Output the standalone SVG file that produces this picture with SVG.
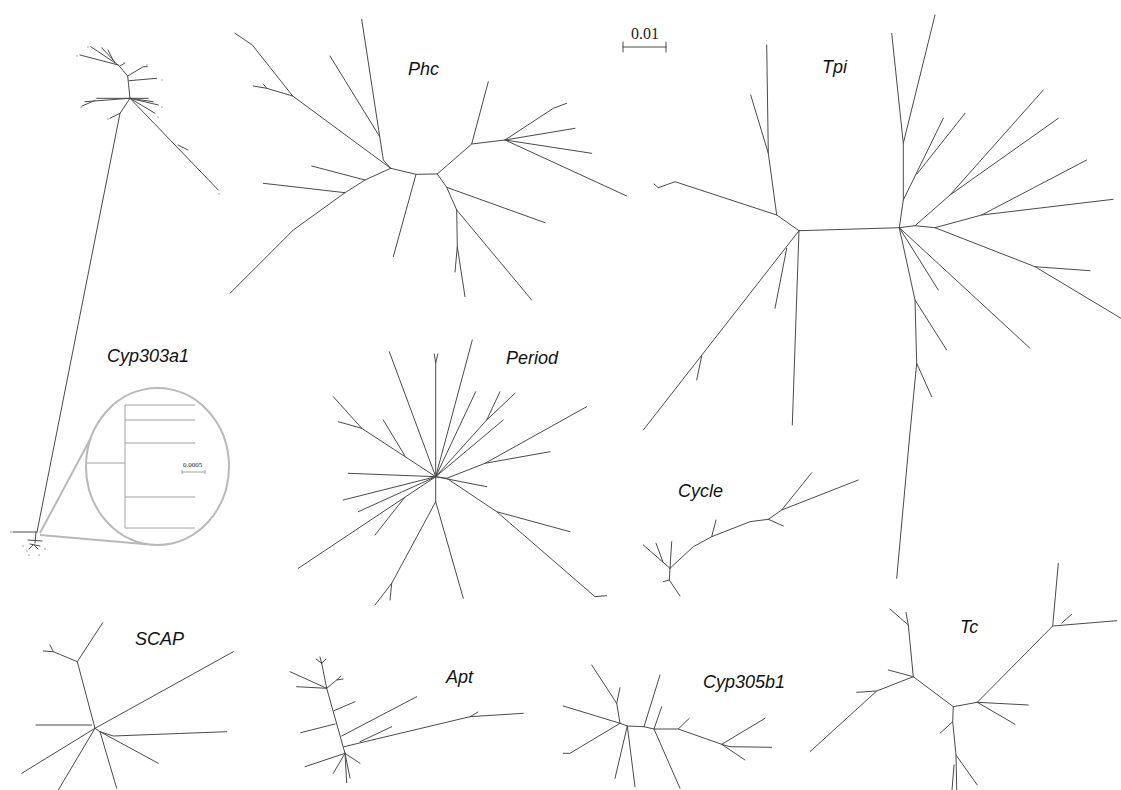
<svg xmlns="http://www.w3.org/2000/svg" width="1121" height="790" viewBox="0 0 1121 790">
<style>
.t{fill:none;stroke:#4a4a4a;stroke-width:1;stroke-linecap:round;stroke-linejoin:round}
.lbl{font-family:"Liberation Sans",Arial,sans-serif;font-style:italic;font-size:18px;fill:#111}
.ins{fill:none;stroke:#b9b9b9;stroke-width:2}
.inst{fill:none;stroke:#a0a0a0;stroke-width:1}
.sc{font-family:"Liberation Serif","Times New Roman",serif;fill:#222}
.dot{fill:#999}
</style>
<rect width="1121" height="790" fill="#fff"/>

<g id="scalebar">
<path class="t" d="M623,47 L666,47 M623,42 L623,52 M666,42 L666,52"/>
<text class="sc" x="645" y="39" font-size="16" text-anchor="middle">0.01</text>
</g>

<g id="cyp303a1">
<path class="t" d="M130,98.3 L127.7,76 L118.3,65 L90.7,46.7 M118.3,65 L80,55 M115,62 L102,48 M113,60 L108,50 M120,66 L125,63 M127.7,76 L143.3,66.7 L147.3,66.7 M129.3,80.7 L156.7,78.3 M130,98.3 L85,101.7 M95,100.5 L82,106 M130,98.3 L96.7,98.3 M130,98.3 L148.3,98.3 M130,98.3 L153.3,101.7 M130,98.3 L158.3,105 M130,98.3 L155,113.3 M130,98.3 L218.3,190 M178,145 L188,150 M130,98.3 L120,113.3 L37,532 M120,113.3 L110,118.3 M37,532 L13,532 M36,532 L35,543 M28,540 L42,541 M30,544 L40,546 M33,545 L29,549 M34,545 L38,549"/>
<g class="dot">
<circle cx="88" cy="47" r="0.8"/><circle cx="77" cy="56" r="0.8"/><circle cx="102" cy="48" r="0.8"/><circle cx="124" cy="63" r="0.8"/><circle cx="147" cy="65" r="0.8"/><circle cx="162" cy="80" r="0.8"/><circle cx="81" cy="107" r="0.8"/><circle cx="162" cy="107" r="0.8"/><circle cx="158" cy="117" r="0.8"/><circle cx="108" cy="119" r="0.8"/><circle cx="219" cy="194" r="0.8"/><circle cx="23" cy="546" r="0.8"/><circle cx="27" cy="551" r="0.8"/><circle cx="29" cy="555" r="0.8"/><circle cx="39" cy="555" r="0.8"/><circle cx="45" cy="549" r="0.8"/><circle cx="11" cy="532" r="0.8"/>
</g>
<text class="lbl" x="107" y="362">Cyp303a1</text>
<path class="ins" d="M40,533 L90.7,438.3 M40,535 L146.7,544.3"/>
<ellipse class="ins" cx="157.5" cy="466.5" rx="71.5" ry="78.5"/>
<path class="inst" d="M125,405 L125,528 M125,405 L195,405 M125,420 L195,420 M125,443 L195,443 M125,497 L195,497 M125,528 L195,528 M87,463 L125,463 M182,472 L205,472 M182,470 L182,474 M205,470 L205,474"/>
<text class="sc" x="183" y="467" font-size="7">0.0005</text>
</g>

<g id="phc">
<path class="t" d="M390.7,168.3 L416,174.3 L437.3,174 M390.7,168.3 L383.3,160 L361.7,19.3 M379.7,136.7 L330,56 M390.7,168.3 L292.7,96 L252.3,45 L235,33.3 M292.7,96 L266.7,88.3 L253.3,86 M266.7,88.3 L263.3,84 M390.7,168.3 L365,180 L345,192.7 L293.3,230 L230,293.3 M365,180 L311.7,166 M345,192.7 L263.3,183.3 M416,174.3 L393.3,256.7 M437.3,174 L471.7,144 L488.3,81.7 M471.7,144 L505,140 L553.3,108.3 L566.7,103.3 M505,140 L575,128.3 M505,140 L591.7,153.3 M505,140 L626.7,196 M437.3,174 L446.7,187.3 L545,222.7 M446.7,187.3 L456.7,210 L531.7,300 M456.7,210 L457.3,246.7 L465,296.7 M457.3,246.7 L455,272"/>
<text class="lbl" x="408" y="75">Phc</text>
</g>

<g id="tpi">
<path class="t" d="M799,230.7 L899.3,227.7 M799,230.7 L776.7,215 L675,181.7 L658.3,187.7 M658.3,187.7 L654,184 M776.7,215 L768.3,153.3 L766.7,45 M768.3,153.3 L750.7,95 M799,230.7 L643.3,430 M786.7,248.3 L775,308.3 M701.7,356 L696.7,380 M799,230.7 L792.3,425 M899.3,227.7 L903.3,200 L903.3,143.3 L891.7,33.3 M903.3,143.3 L935,15 M903.3,200 L943.3,118.3 M917,174 L965,113.3 M899.3,227.7 L915,225.7 L935,227.7 L981.7,215 L1113.3,199.3 M981.7,215 L1086.7,160 M915,225.7 L950,195 L1043.3,90 M950,195 L1058.3,118.3 M935,227.7 L1035,266.7 L1121,318.3 M1035,266.7 L1090,270.7 M899.3,227.7 L1030,348.3 M899.3,227.7 L938.3,290 M899.3,227.7 L915,300 L916.7,363.3 L909.3,440 L896.7,578.3 M915,300 L946.7,350 M916.7,363.3 L931.7,396.7"/>
<text class="lbl" x="822" y="73">Tpi</text>
</g>

<g id="period">
<path class="t" d="M435.7,476.7 L435.7,363.3 L434.3,354 M435.7,363.3 L437.7,354 M435.7,476.7 L389.3,351.7 M435.7,476.7 L472.3,340 M435.7,476.7 L475.7,391.7 M435.7,476.7 L486.7,420 L500,391.7 M486.7,420 L515,393.3 M435.7,476.7 L503.3,420 M435.7,476.7 L446.7,478.3 L485,463.3 L586.7,406.7 M485,463.3 L550,451.7 M435.7,476.7 L486.7,486.7 M446.7,478.3 L496.7,511.7 L595,596.7 L606.7,595.7 M496.7,511.7 L570,531.7 M435.7,476.7 L348.3,473.3 M435.7,476.7 L343.3,500 M435.7,476.7 L358.3,511.7 M435.7,476.7 L298.3,568.3 M405,497 L375,535 M435.7,476.7 L361.7,428.3 L333.3,396.7 M361.7,428.3 L338.3,421.7 M405,456 L383.3,420 M435.7,476.7 L435.7,501.7 L391.7,583.3 L375,605 M391.7,583.3 L390,600 M435.7,501.7 L463.3,598.3"/>
<text class="lbl" x="506" y="364">Period</text>
</g>

<g id="cycle">
<path class="t" d="M670,568.3 L693.3,546.7 L711.7,536.7 L750,521.7 L768.3,519.3 L781.7,510 L811.7,472.7 M781.7,510 L858.3,480 M768.3,519.3 L783.3,526 M711.7,536.7 L716,520 M670,568.3 L643.3,545 M663,562 L656,543.3 M670,568.3 L671.7,541.7 M670,568.3 L669.3,580 L680,596 M669.3,580 L663.3,581.7"/>
<text class="lbl" x="678" y="497">Cycle</text>
</g>

<g id="scap">
<path class="t" d="M95,728.3 L77.3,661.7 L102.7,622.7 M77.3,661.7 L53.3,651.7 L43.3,651 M53.3,651.7 L50,645 M95,728.3 L233.3,651.7 M91.7,725 L36,725 M95,728.3 L100,731.7 L113.3,736 L226.7,731.7 M100,731.7 L158.3,763.3 M100,731.7 L116.7,788.3 M95,728.3 L21.7,773.3 M95,728.3 L58.3,790"/>
<text class="lbl" x="135" y="645">SCAP</text>
</g>

<g id="apt">
<path class="t" d="M321.7,663.3 L326.7,688.3 L345,753.3 M321.7,663.3 L316,659 M321.7,663.3 L320,657 M321.7,663.3 L326,659 M326.7,688.3 L290,671.7 M326.7,688.3 L296.7,686.7 M326.7,688.3 L336.7,680 L341,676 M336.7,680 L343,679 M334,710.7 L355,701.7 M335,724 L300.7,732.7 M341.7,736 L416.7,696.7 M344,746.7 L470,716.7 L523.3,713.3 M470,716.7 L478,712 M360,741.7 L391.7,726.7 M345,753.3 L305,766.7 M345,753.3 L333.3,773.3 M345,753.3 L346.7,782.7 M345,753.3 L360,763.3 M345,753.3 L350,778"/>
<text class="lbl" x="446" y="683">Apt</text>
</g>

<g id="cyp305b1">
<path class="t" d="M620,723.3 L627.3,726 L644,726.7 L654,729 L678.3,729 L721.7,744.3 L765,718.3 M721.7,744.3 L730,746.7 L771.7,747.3 M721.7,744.3 L745,760 M678.3,729 L689.3,718.3 M654,729 L661.7,706.7 M644,726.7 L660,675 M654,729 L680,788.3 M627.3,726 L615,778.3 M627.3,726 L635,786.7 M620,723.3 L563.3,706 M620,723.3 L616.7,703.3 L591.7,665 M616.7,703.3 L620,687.7 M620,723.3 L570,753.3 L563.3,753.3"/>
<text class="lbl" x="703" y="688">Cyp305b1</text>
</g>

<g id="tc">
<path class="t" d="M913.3,676.7 L953.3,706.7 L977.3,702.3 L1052.7,626 L1058.3,563.3 M1052.7,626 L1116.7,620.7 M1061.7,623 L1071.7,614.3 M913.3,676.7 L908.3,625 L890,609 M908.3,625 L906,612.3 M913.3,676.7 L888.3,670 M913.3,676.7 L876.7,691 L810,751.7 M876.7,691 L856.7,692.3 M977.3,702.3 L1028.3,705 M977.3,702.3 L1015,724.3 M953.3,706.7 L952.7,721.7 L956,755 L956.7,790 M952.7,721.7 L940,733.3 M956,755 L977.3,785 M954,765 L952,790"/>
<text class="lbl" x="960" y="633">Tc</text>
</g>
</svg>
